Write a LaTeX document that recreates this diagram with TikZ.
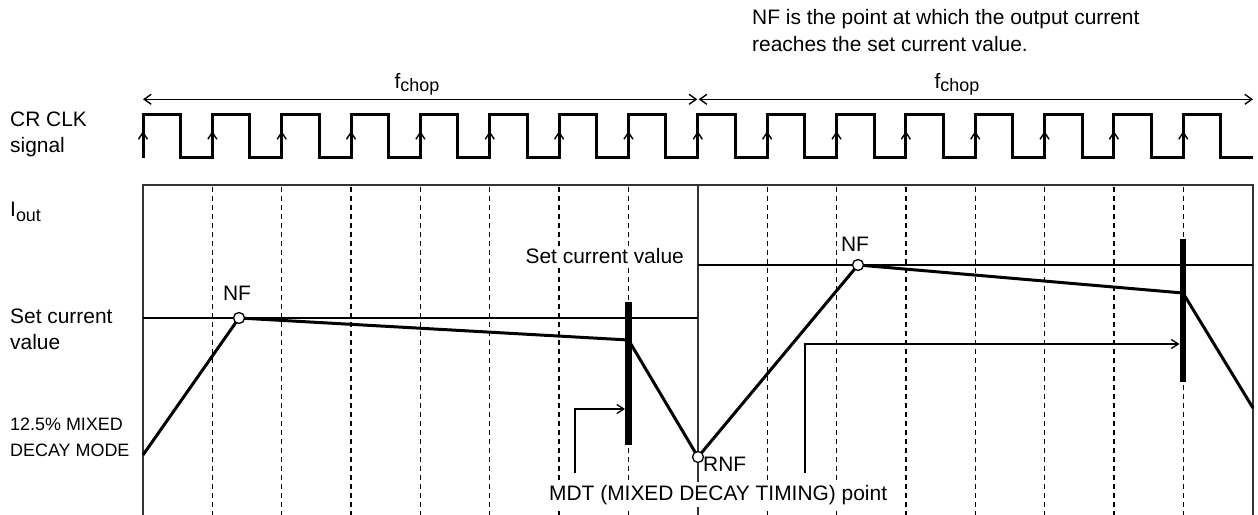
\documentclass[tikz,border=0pt]{standalone}
\usepackage{fontspec}
\setmainfont{Liberation Sans}
\usetikzlibrary{arrows.meta}
\begin{document}
\begin{tikzpicture}[x=1bp,y=-1bp,
  txt/.style={inner sep=0pt,font=\fontsize{21}{26}\selectfont},
  smalltxt/.style={inner sep=0pt,font=\fontsize{18}{22}\selectfont},
  clk/.style={line width=3bp,line join=miter},
  gridline/.style={dash pattern=on 5bp off 4bp,line width=1.3bp},
  frame/.style={line width=1.5bp,black!80},
  wave/.style={line width=3bp,line join=round},
  setline/.style={line width=2.8bp},
  bar/.style={line width=6.5bp},
  dim/.style={line width=1.4bp,{Straight Barb[length=7bp,width=10bp]}-{Straight Barb[length=7bp,width=10bp]}},
  ptr/.style={line width=1.3bp,-{Straight Barb[length=7bp,width=9bp]}},
  edgearr/.style={line width=1.4bp,-{Straight Barb[length=7bp,width=9bp]}},
  ptnode/.style={circle,draw,fill=white,line width=1.3bp,inner sep=0pt,minimum size=11bp},
]
\useasboundingbox (0,0) rectangle (1258,515);

% grid
\foreach \k in {1,2,3,4,5,6,7,9,10,11,12,13,14,15}
  \draw[gridline] ({143+69.35*\k},187) -- ({143+69.35*\k},515);
\draw[frame] (143,515) -- (143,185) -- (1253,185) -- (1253,515);
\draw[frame] (698,185) -- (698,515);

% clock
\draw[clk] (143,158) foreach \k in {0,...,15} {
  -- ({143+69.35*\k},158) -- ({143+69.35*\k},115) -- ({180.5+69.35*\k},115) -- ({180.5+69.35*\k},158) } -- (1253,158);
\foreach \k in {0,...,15}
  \draw[edgearr] ({143+69.35*\k},152) -- ({143+69.35*\k},131);

% f_chop
\coordinate (c0) at (143,99.3);
\coordinate (c1) at (697.3,99.3);
\coordinate (c2) at (698.7,99.3);
\coordinate (c3) at (1253,99.3);
\draw[dim] (c0) -- (c1);
\draw[dim] (c2) -- (c3);
\node[txt,anchor=base] (fc1) at (417,89) {f\raisebox{-3bp}{\fontsize{18}{18}\selectfont chop}};
\node[txt,anchor=base] (fc2) at (957,89) {f\raisebox{-3bp}{\fontsize{18}{18}\selectfont chop}};

% set current lines
\draw[setline] (143,318) -- (698,318);
\draw[setline] (698,265) -- (1253,265);

% waveform
\coordinate (s0) at (143,455);
\coordinate (nf1) at (239,318);
\coordinate (b1) at (628.5,340);
\coordinate (rnf) at (698,457);
\coordinate (nf2) at (858,265);
\coordinate (b2) at (1183,293);
\coordinate (e0) at (1253,408);
\draw[wave] (s0) -- (nf1) -- (b1) -- (rnf) -- (nf2) -- (b2) -- (e0);

% bars
\coordinate (bar1t) at (628.5,302);
\coordinate (bar1b) at (628.5,445);
\coordinate (bar2t) at (1183,239);
\coordinate (bar2b) at (1183,382);
\draw[bar] (bar1t) -- (bar1b);
\draw[bar] (bar2t) -- (bar2b);

% MDT pointers
\coordinate (m1) at (575,473);
\coordinate (m1e) at (625,409);
\coordinate (m2) at (805,473);
\coordinate (m2e) at (1179.5,344);
\draw[ptr] (m1) |- (m1e);
\draw[ptr] (m2) |- (m2e);

% points
\node[ptnode] (pnf1) at (nf1) {};
\node[ptnode] (pnf2) at (nf2) {};
\node[ptnode] (prnf) at (rnf) {};

% labels
\node[txt,anchor=base west] (cr1) at (10,127) {CR CLK};
\node[txt,anchor=base west] (cr2) at (10,153) {signal};
\node[txt,anchor=base west] (iout) at (10,216.5) {I\raisebox{-5bp}{\fontsize{18}{18}\selectfont out}};
\node[txt,anchor=base west] (sc1) at (10,323.5) {Set current};
\node[txt,anchor=base west] (sc2) at (10,350) {value};
\node[smalltxt,anchor=base west] (md1) at (10,430) {12.5\% MIXED};
\node[smalltxt,anchor=base west] (md2) at (10,456) {DECAY MODE};
\node[txt,anchor=base] (lnf1) at (237,301) {NF};
\node[txt,anchor=base] (lnf2) at (855,252) {NF};
\node[txt,anchor=base east,fill=white,inner sep=2bp] (scr) at (686,264) {Set current value};
\node[txt,anchor=base west] (lrnf) at (703,471.5) {RNF};
\node[txt,anchor=base west,fill=white,inner xsep=2bp,inner ysep=3bp] (mdt) at (547,500) {MDT (MIXED DECAY TIMING) point};
\node[txt,anchor=base west] (note1) at (752,25) {NF is the point at which the output current};
\node[txt,anchor=base west] (note2) at (752,52) {reaches the set current value.};
\end{tikzpicture}
\end{document}
